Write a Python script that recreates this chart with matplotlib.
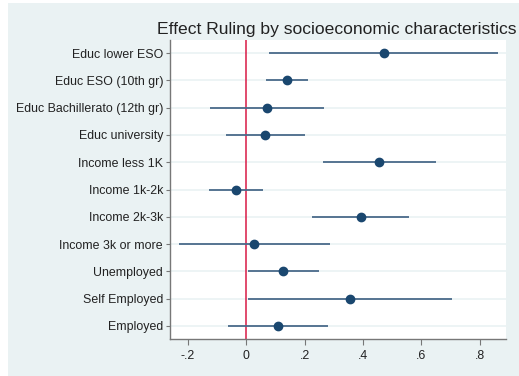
import matplotlib.pyplot as plt
from matplotlib.patches import Rectangle
import numpy as np

plt.rcParams['font.family'] = ['Liberation Sans', 'DejaVu Sans']

labels = ["Educ lower ESO", "Educ ESO (10th gr)", "Educ Bachillerato (12th gr)",
          "Educ university", "Income less 1K", "Income 1k-2k", "Income 2k-3k",
          "Income 3k or more", "Unemployed", "Self Employed", "Employed"]
coef = [0.472, 0.141, 0.073, 0.065, 0.455, -0.034, 0.392, 0.028, 0.128, 0.356, 0.109]
ci_low = [0.080, 0.069, -0.123, -0.069, 0.263, -0.126, 0.227, -0.228, 0.006, 0.008, -0.062]
ci_high = [0.863, 0.213, 0.268, 0.201, 0.648, 0.059, 0.558, 0.287, 0.251, 0.705, 0.280]
xticks = [-0.2, 0, 0.2, 0.4, 0.6, 0.8]
xticklabels = ["-.2", "0", ".2", ".4", ".6", ".8"]

bg = "#eaf2f3"
navy = "#1a476f"

fig = plt.figure(figsize=(5.19, 3.76), dpi=100, facecolor="white")
fig.patches.append(Rectangle((8 / 519, 0), 1, 373 / 376, transform=fig.transFigure,
                             facecolor=bg, edgecolor="none", zorder=-10))

ax = fig.add_axes([170 / 519, 37 / 376, 336 / 519, 299 / 376])
ax.set_facecolor("white")

y = np.arange(len(labels))
for yi in y:
    ax.axhline(yi, color=bg, lw=1.2, zorder=0)
ax.axvline(0, color="#d91a45", lw=1.1, zorder=1)
ax.hlines(y, ci_low, ci_high, color="#4a6a8a", lw=1.3, zorder=2)
ax.plot(coef, y, "o", color=navy, ms=6, zorder=3)

ax.set_xlim(-0.26, 0.889)
ax.set_ylim(len(labels) - 0.52, -0.48)
ax.set_yticks(y)
ax.set_yticklabels(labels, fontsize=8.9, color="#222222")
ax.set_xticks(xticks)
ax.set_xticklabels(xticklabels, fontsize=8.9, color="#222222")
ax.tick_params(axis="y", length=3, width=0.8, color="#777777", pad=2)
ax.tick_params(axis="x", length=4, width=0.8, color="#777777", pad=4)
for s in ["top", "right"]:
    ax.spines[s].set_visible(False)
for s in ["left", "bottom"]:
    ax.spines[s].set_color("#777777")
    ax.spines[s].set_linewidth(1.0)

fig.text(157 / 519, 1 - 34 / 376, "Effect Ruling by socioeconomic characteristics",
         fontsize=12.6, color="#222222", ha="left", va="baseline")

fig.savefig("out.png", dpi=100, facecolor="white")
